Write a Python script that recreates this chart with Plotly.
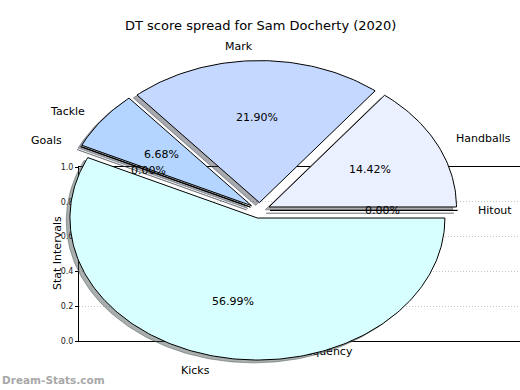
import numpy as np
import plotly.graph_objects as go

# ---------------- data ----------------
labels = ["Handballs", "Mark", "Tackle", "Goals", "Kicks", "Hitout"]
values = [14.42, 21.90, 6.68, 0.00, 56.99, 0.00]
colors = ["#eaf0ff", "#c5d8ff", "#b3d5ff", "#b0c4de", "#d8ffff", "#e0e0ff"]
y_tickvals = [0.0, 0.2, 0.4, 0.6, 0.8, 1.0]
y_ticktext = ["0.0", "0.2", "0.4", "0.6", "0.8", "1.0"]
title_text = "DT score spread for Sam Docherty (2020)"
x_label = "Frequency"
y_label = "Stat Intervals"
watermark = "Dream-Stats.com"

# ---------------- layout constants (pixels) ----------------
W, H = 520, 390
CX, CY = 259.7, 210.4      # pie centre
RX, RY = 187.5, 142.0      # elliptical radii (non-equal aspect)
EXPLODE = 0.055
SH_DX, SH_DY = -0.02 * RX, 0.02 * RY
FONT = "DejaVu Sans"


def hex_rgb(h):
    h = h.lstrip("#")
    return tuple(int(h[i:i + 2], 16) for i in (0, 2, 4))


total = sum(values)
wedges = []
start = 0.0
for lab, v, col in zip(labels, values, colors):
    t1 = start
    t2 = start + 360.0 * v / total
    start = t2
    mid = np.deg2rad((t1 + t2) / 2)
    ox = CX + EXPLODE * RX * np.cos(mid)
    oy = CY - EXPLODE * RY * np.sin(mid)
    n = max(2, int(abs(t2 - t1)) + 2)
    ts = np.deg2rad(np.linspace(t1, t2, n))
    xs = np.concatenate([[ox], ox + RX * np.cos(ts), [ox]])
    ys = np.concatenate([[oy], oy - RY * np.sin(ts), [oy]])
    wedges.append(dict(label=lab, value=v, color=col, mid=mid, ox=ox, oy=oy, xs=xs, ys=ys))

fig = go.Figure()

# empty trace so the background "Stat Intervals" axes gets rendered
fig.add_trace(go.Scatter(x=[None], y=[None], xaxis="x", yaxis="y", hoverinfo="skip"))

# shadows first (below all wedges)
for w in wedges:
    r, g, b = hex_rgb(w["color"])
    sc = f"rgba({int(r*0.3)},{int(g*0.3)},{int(b*0.3)},0.45)"
    fig.add_trace(go.Scatter(x=w["xs"] + SH_DX, y=w["ys"] + SH_DY, mode="lines",
                             fill="toself", fillcolor=sc, line=dict(color=sc, width=1),
                             xaxis="x2", yaxis="y2", hoverinfo="skip"))

for w in wedges:
    fig.add_trace(go.Scatter(x=w["xs"], y=w["ys"], mode="lines", fill="toself",
                             fillcolor=w["color"], line=dict(color="black", width=1),
                             xaxis="x2", yaxis="y2", name=w["label"], hoverinfo="name"))

annotations = []
for w in wedges:
    c, s = np.cos(w["mid"]), np.sin(w["mid"])
    lx = w["ox"] + 1.1 * RX * c
    ly = w["oy"] - 1.1 * RY * s
    anchor = "left" if (lx - CX) > 0 else "right"
    annotations.append(dict(x=lx, y=ly, xref="x2", yref="y2", text=w["label"], showarrow=False,
                            xanchor=anchor, yanchor="middle",
                            font=dict(family=FONT, size=11, color="black")))
    px = w["ox"] + 0.6 * RX * c
    py = w["oy"] - 0.6 * RY * s
    annotations.append(dict(x=px, y=py, xref="x2", yref="y2", text=f"{w['value']:.2f}%",
                            showarrow=False, xanchor="center", yanchor="middle",
                            font=dict(family=FONT, size=11, color="black")))

annotations.append(dict(x=W / 2, y=25, xref="x2", yref="y2", text=title_text, showarrow=False,
                        xanchor="center", yanchor="middle",
                        font=dict(family=FONT, size=13, color="black")))
annotations.append(dict(x=0, y=380, xref="x2", yref="y2", text=f"<b>{watermark}</b>",
                        showarrow=False, xanchor="left", yanchor="middle",
                        font=dict(family=FONT, size=10.5, color="#a8a8a8")))
# y-axis title
annotations.append(dict(x=57, y=253, xref="x2", yref="y2", text=y_label, showarrow=False,
                        textangle=-90, xanchor="center", yanchor="middle",
                        font=dict(family=FONT, size=11, color="black")))

fig.update_layout(
    width=W, height=H,
    margin=dict(l=0, r=0, t=0, b=0),
    paper_bgcolor="white",
    plot_bgcolor="rgba(0,0,0,0)",
    showlegend=False,
    font=dict(family=FONT, color="black"),
    xaxis=dict(domain=[79 / W, 1.0], range=[0, 0.9], anchor="y", automargin=False,
               showline=True, mirror=True, linecolor="black", linewidth=1,
               showgrid=False, zeroline=False, ticks="",
               tickvals=[0.5], ticktext=[x_label],
               tickfont=dict(family=FONT, size=11, color="black")),
    yaxis=dict(domain=[(H - 341) / H, (H - 167) / H], range=[0, 1], anchor="x", automargin=False,
               showline=True, linecolor="black", linewidth=1,
               showgrid=True, gridcolor="#c4c4c4", griddash="1px,2px", gridwidth=1,
               zeroline=False, ticks="outside", ticklen=3, tickcolor="black",
               tickvals=y_tickvals, ticktext=y_ticktext,
               tickfont=dict(family=FONT, size=8, color="#222")),
    xaxis2=dict(domain=[0, 1], range=[0, W], anchor="y2", visible=False, fixedrange=True),
    yaxis2=dict(domain=[0, 1], range=[H, 0], anchor="x2", visible=False, fixedrange=True),
    annotations=annotations,
)

fig.write_html("out.html", config={"displayModeBar": False},
               post_script="document.body.style.margin='0px';")
